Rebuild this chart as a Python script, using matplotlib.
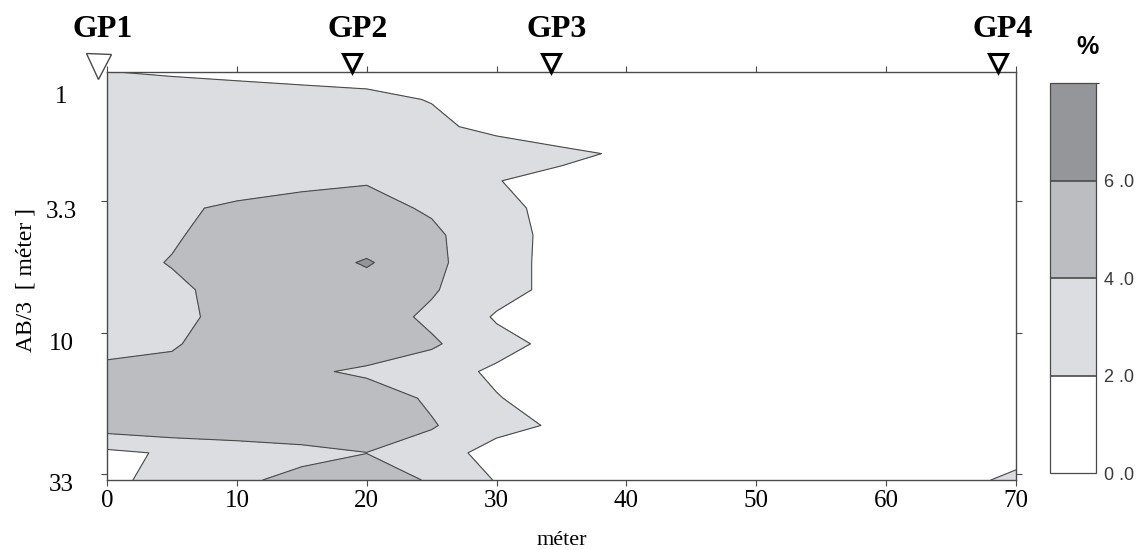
import numpy as np
import matplotlib.pyplot as plt
from matplotlib.colors import ListedColormap, BoundaryNorm
import matplotlib.transforms as mtransforms

# horizontal position along the profile (m) and AB/3 depth levels (m)
x_m = [0, 5, 10, 15, 20, 25, 30, 35, 40, 50, 60, 70]
depth = [1.11, 1.40, 1.76, 2.21, 2.78, 3.50, 4.40, 5.54, 6.97, 8.76,
         11.0, 13.9, 17.4, 21.9, 27.6, 34.7]

pct = [
    [2.02, 1.90, 1.80, 1.70, 1.60, 1.40, 1.20, 1.00, 0.90, 0.80, 0.80, 0.80],
    [2.70, 2.58, 2.48, 2.38, 2.28, 1.95, 1.50, 1.30, 1.20, 1.00, 0.90, 0.80],
    [3.00, 2.90, 2.80, 2.90, 2.90, 2.30, 1.59, 0.90, 0.90, 0.90, 0.90, 0.80],
    [3.10, 3.00, 3.10, 3.30, 3.40, 3.10, 2.87, 2.40, 1.75, 1.20, 1.00, 0.90],
    [3.20, 3.30, 3.50, 3.70, 3.90, 3.30, 2.05, 1.45, 1.20, 1.00, 0.90, 0.90],
    [3.30, 3.80, 4.20, 4.50, 4.57, 3.78, 2.40, 1.53, 1.20, 1.00, 0.90, 0.90],
    [3.30, 3.80, 4.80, 5.00, 5.00, 4.39, 2.60, 1.53, 1.20, 1.00, 0.90, 0.90],
    [3.30, 4.10, 4.90, 5.00, 6.20, 4.49, 2.60, 1.49, 1.20, 1.00, 0.90, 0.90],
    [3.30, 3.60, 4.71, 5.00, 5.00, 4.19, 2.60, 1.49, 1.20, 1.00, 0.90, 0.90],
    [3.30, 3.60, 4.51, 5.00, 5.00, 3.61, 1.82, 1.30, 1.20, 1.00, 0.90, 0.90],
    [3.50, 3.80, 5.05, 5.00, 5.00, 4.27, 2.60, 1.45, 1.20, 1.00, 0.90, 0.90],
    [4.41, 4.60, 4.80, 4.30, 3.70, 2.80, 1.69, 1.30, 1.20, 1.00, 0.90, 0.90],
    [4.60, 4.80, 5.00, 5.00, 5.00, 3.72, 2.10, 1.10, 1.00, 1.00, 0.90, 0.90],
    [4.92, 5.26, 5.35, 5.49, 5.00, 4.16, 2.60, 1.72, 1.20, 1.00, 0.90, 0.90],
    [1.53, 2.26, 2.80, 3.30, 3.98, 3.00, 1.21, 1.00, 1.00, 0.90, 0.90, 1.82],
    [1.50, 2.75, 3.50, 4.75, 4.90, 3.83, 1.88, 1.00, 1.00, 0.90, 1.50, 2.12],
]

levels = [0, 2, 4, 6, 8]
level_colors = ['#ffffff', '#dcdde0', '#bcbdc0', '#94969a']
cbar_labels = ['0 .0', '2 .0', '4 .0', '6 .0']

gp_names = ['GP1', 'GP2', 'GP3', 'GP4']
gp_x = [-0.7, 18.9, 34.2, 68.6]

xticks = [0, 10, 20, 30, 40, 50, 60, 70]
yticks = [1.25, 3.3, 10, 33]
ytick_labels = ['1', '3.3', '10', '33']

serif = 'Liberation Serif'
edge = '#4a4a4a'

fig = plt.figure(figsize=(11.42, 5.5), dpi=100)
ax = fig.add_axes([0.0937, 0.1273, 0.796, 0.7418])

cmap = ListedColormap(level_colors)
norm = BoundaryNorm(levels, cmap.N)
X, Y = np.meshgrid(x_m, depth)
Z = np.array(pct)
cf = ax.contourf(X, Y, Z, levels=levels, cmap=cmap, norm=norm)
ax.contour(X, Y, Z, levels=levels[1:-1], colors=edge, linewidths=0.8)

ax.set_yscale('log')
ax.set_xlim(0, 70)
ax.set_ylim(34.7, 1.11)
ax.set_xticks(xticks)
ax.set_xticklabels([str(v) for v in xticks], fontfamily=serif, fontsize=18)
ax.yaxis.set_minor_locator(plt.NullLocator())
ax.set_yticks(yticks)
ax.set_yticklabels(ytick_labels, fontfamily=serif, fontsize=18,
                   ha='center', va='top')
ax.tick_params(axis='both', direction='out', length=4, width=0.8, color=edge)
ax.tick_params(axis='x', top=True, labeltop=False, pad=3)
ax.tick_params(axis='y', right=True, labelright=False, pad=29)
# the "1" label has no tick mark
ax.yaxis.get_major_ticks()[0].tick1line.set_visible(False)
ax.yaxis.get_major_ticks()[0].tick2line.set_visible(False)
for s in ax.spines.values():
    s.set_color(edge)
    s.set_linewidth(1.0)

ax.set_xlabel('méter', fontfamily=serif, fontsize=16, labelpad=14)
ax.set_ylabel('AB/3  [ méter ]', fontfamily=serif, fontsize=17)
ax.yaxis.set_label_coords(-0.078, 0.49)

# borehole / GP markers above the section
trans = mtransforms.blended_transform_factory(ax.transData, ax.transAxes)
for i, (name, gx) in enumerate(zip(gp_names, gp_x)):
    if i == 0:
        ax.plot(gx, 1.0135, marker='v', ms=18, mfc='white', mec=edge, mew=1.0,
                transform=trans, clip_on=False, zorder=5)
    else:
        ax.plot(gx, 1.022, marker='v', ms=13, mfc='white', mec='black', mew=2.2,
                transform=trans, clip_on=False, zorder=5)
    ax.text(gx + 0.4, 1.103, name, transform=trans, ha='center', va='center',
            fontfamily=serif, fontweight='bold', fontsize=23)

# colour scale
cax = fig.add_axes([0.9194, 0.14, 0.0403, 0.709])
cb = fig.colorbar(cf, cax=cax, ticks=levels[:-1], drawedges=True)
cb.outline.set_edgecolor(edge)
cb.outline.set_linewidth(0.9)
cb.dividers.set_color(edge)
cb.dividers.set_linewidth(1.2)
cax.set_yticklabels(cbar_labels, fontfamily='Liberation Sans', fontsize=13, color='#3a3a3a')
cax.tick_params(length=0, pad=6)
fig.text(0.952, 0.9145, '%', ha='center', va='center', fontfamily='Liberation Sans',
         fontweight='bold', fontsize=18)

fig.savefig('out.png', dpi=100)
